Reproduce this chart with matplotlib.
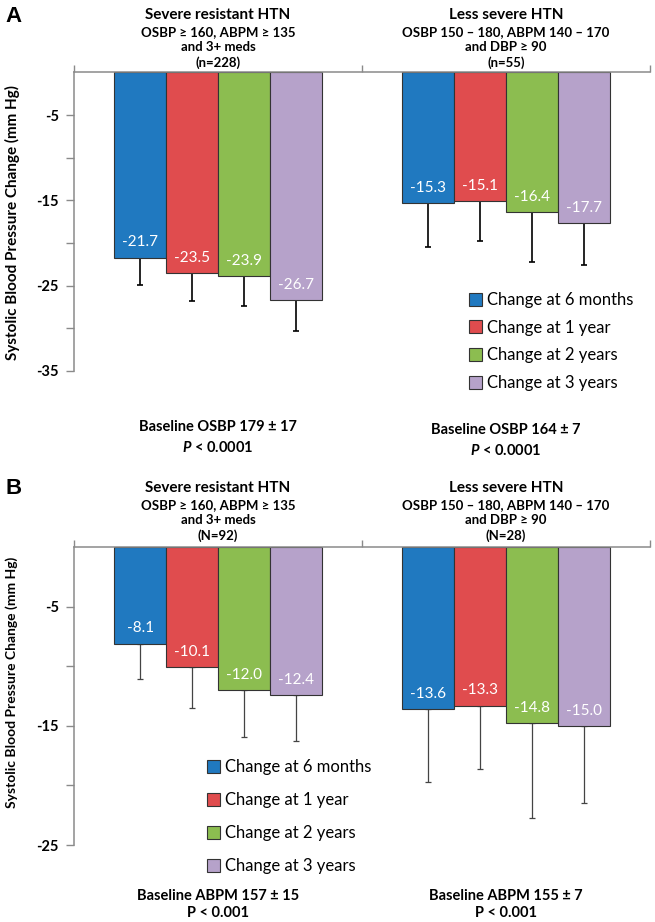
import numpy as np
import matplotlib
matplotlib.use('Agg')
import matplotlib.pyplot as plt
from matplotlib import transforms

plt.rcParams['font.family'] = ['Lato', 'DejaVu Sans']
plt.rcParams['mathtext.fontset'] = 'custom'
plt.rcParams['mathtext.it'] = 'Lato:italic:bold'
plt.rcParams['mathtext.rm'] = 'Lato:bold'

series = ['Change at 6 months', 'Change at 1 year', 'Change at 2 years', 'Change at 3 years']
colors = ['#2079C0', '#E04C4E', '#8CBD50', '#B6A2CA']

# panel A - office SBP
a_severe = [-21.7, -23.5, -23.9, -26.7]
a_severe_err = [3.2, 3.3, 3.5, 3.6]
a_less = [-15.3, -15.1, -16.4, -17.7]
a_less_err = [5.2, 4.7, 5.8, 4.9]

# panel B - ABPM
b_severe = [-8.1, -10.1, -12.0, -12.4]
b_severe_err = [3.0, 3.4, 3.9, 3.9]
b_less = [-13.6, -13.3, -14.8, -15.0]
b_less_err = [6.1, 5.3, 7.9, 6.5]

a_head_severe = ['Severe resistant HTN', 'OSBP \u2265 160, ABPM \u2265 135', 'and 3+ meds', '(n=228)']
a_head_less = ['Less severe HTN', 'OSBP 150 \u2013 180, ABPM 140 \u2013 170', 'and DBP \u2265 90', '(n=55)']
b_head_severe = ['Severe resistant HTN', 'OSBP \u2265 160, ABPM \u2265 135', 'and 3+ meds', '(N=92)']
b_head_less = ['Less severe HTN', 'OSBP 150 \u2013 180, ABPM 140 \u2013 170', 'and DBP \u2265 90', '(N=28)']

a_foot = [['Baseline OSBP 179 \u00b1 17', '$P$ < 0.0001'], ['Baseline OSBP 164 \u00b1 7', '$P$ < 0.0001']]
b_foot = [['Baseline ABPM 157 \u00b1 15', 'P < 0.001'], ['Baseline ABPM 155 \u00b1 7', 'P < 0.001']]

a_major = [-5, -15, -25, -35]
a_minor = [-10, -20, -30]
b_major = [-5, -15, -25]
b_minor = [-10, -20]

W, H = 655, 922
GRAY = '#8a8a8a'
BW = 0.18


def fy(px):
    return 1 - px / H


def draw_panel(ax, severe, severe_err, less, less_err, ymin, major, minor, ecolor, elw):
    x = np.arange(2)
    for i in range(4):
        xi = x + (i - 1.5) * BW
        vals = [severe[i], less[i]]
        errs = [severe_err[i], less_err[i]]
        ax.bar(xi, vals, BW, color=colors[i], edgecolor='#333333', linewidth=0.8,
               label=series[i], zorder=2)
        ax.errorbar(xi, vals, yerr=[errs, [0, 0]], fmt='none', ecolor=ecolor,
                    elinewidth=elw, capsize=2.5, capthick=elw, zorder=1.5)
        for xx, v in zip(xi, vals):
            ax.annotate(f'{v:.1f}', (xx, v), xytext=(0, 11), textcoords='offset points',
                        ha='center', va='center', color='white', fontsize=11)

    ax.set_xlim(-0.5, 1.5)
    ax.set_ylim(ymin, 0)
    for s in ['bottom', 'right']:
        ax.spines[s].set_visible(False)
    for s in ['top', 'left']:
        ax.spines[s].set_color(GRAY)
        ax.spines[s].set_linewidth(1.1)
    ax.xaxis.tick_top()
    ax.set_xticks([-0.5, 0.5, 1.5])
    ax.set_xticklabels([])
    ax.tick_params(axis='x', direction='out', length=5, color=GRAY, width=1)
    ax.set_yticks(major)
    ax.set_yticklabels([str(t) for t in major])
    ax.set_yticks(minor, minor=True)
    ax.tick_params(axis='y', which='both', direction='out', length=6, color=GRAY,
                   width=1, labelsize=10.5, pad=5)
    for lbl in ax.get_yticklabels():
        lbl.set_fontweight('bold')


def headers(fig, ax, lines, cat, ys):
    tr = transforms.blended_transform_factory(ax.transData, fig.transFigure)
    sizes = [11, 9.5, 9.5, 9.5]
    for txt, y, fs in zip(lines, ys, sizes):
        fig.text(cat, fy(y), txt, transform=tr, ha='center', va='center',
                 fontsize=fs, fontweight='bold')


def footers(fig, ax, lines, cat, ys):
    tr = transforms.blended_transform_factory(ax.transData, fig.transFigure)
    for txt, y in zip(lines, ys):
        fig.text(cat, fy(y), txt, transform=tr, ha='center', va='center',
                 fontsize=10.5, fontweight='bold')


fig = plt.figure(figsize=(W / 100, H / 100), dpi=100)

ax_a = fig.add_axes([74 / W, fy(371), 576 / W, (371 - 72.5) / H])
draw_panel(ax_a, a_severe, a_severe_err, a_less, a_less_err, -35, a_major, a_minor, 'black', 1.2)
ax_b = fig.add_axes([74 / W, fy(845), 576 / W, (845 - 547) / H])
draw_panel(ax_b, b_severe, b_severe_err, b_less, b_less_err, -25, b_major, b_minor, '#444444', 0.9)

headers(fig, ax_a, a_head_severe, 0, [15, 32, 47, 63])
headers(fig, ax_a, a_head_less, 1, [15, 32, 47, 63])
headers(fig, ax_b, b_head_severe, 0, [488, 505, 520, 536])
headers(fig, ax_b, b_head_less, 1, [488, 505, 520, 536])

footers(fig, ax_a, a_foot[0], 0, [427, 447])
footers(fig, ax_a, a_foot[1], 1, [430, 450])
footers(fig, ax_b, b_foot[0], 0, [896, 913])
footers(fig, ax_b, b_foot[1], 1, [896, 913])

fig.text(14 / W, fy(16), 'A', fontsize=16, fontweight='bold', family='Liberation Sans',
         ha='center', va='center')
fig.text(14 / W, fy(488), 'B', fontsize=16, fontweight='bold', family='Liberation Sans',
         ha='center', va='center')

ylab = 'Systolic Blood Pressure Change (mm Hg)'
fig.text(12 / W, fy(222), ylab, rotation=90, ha='center', va='center',
         fontsize=11, fontweight='bold')
fig.text(12 / W, fy(682), ylab, rotation=90, ha='center', va='center',
         fontsize=10, fontweight='bold')

ax_a.legend(loc='upper left', bbox_to_anchor=(469 / W, fy(292)), bbox_transform=fig.transFigure,
            frameon=False, fontsize=12, handlelength=0.8, handleheight=0.8,
            handletextpad=0.3, labelspacing=0.7, borderpad=0, borderaxespad=0)
ax_b.legend(loc='upper left', bbox_to_anchor=(207 / W, fy(759)), bbox_transform=fig.transFigure,
            frameon=False, fontsize=12, handlelength=0.8, handleheight=0.8,
            handletextpad=0.3, labelspacing=1.02, borderpad=0, borderaxespad=0)

fig.savefig('out.png', dpi=100)
